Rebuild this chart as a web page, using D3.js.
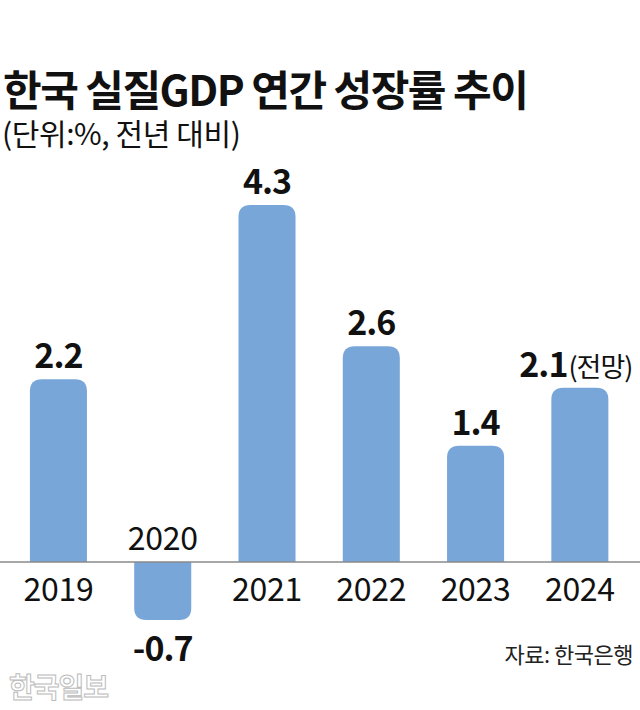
<!DOCTYPE html>
<html><head><meta charset="utf-8">
<script src="https://cdn.jsdelivr.net/npm/d3@7"></script>
<style>
html,body{margin:0;padding:0;background:#fff;}
svg{display:block;}
text{font-family:"Noto Sans CJK KR","Noto Sans",sans-serif;}
</style></head>
<body>
<svg id="chart" width="640" height="710"></svg>
<script>
const years = ["2019","2020","2021","2022","2023","2024"];
const growth = [2.2, -0.7, 4.3, 2.6, 1.4, 2.1];
const valueLabels = ["2.2","-0.7","4.3","2.6","1.4","2.1"];
const noteLabel = "(전망)";
const titleText = "한국 실질GDP 연간 성장률 추이";
const subtitleText = "(단위:%, 전년 대비)";
const sourceText = "자료: 한국은행";
const logoText = "한국일보";

const svg = d3.select("#chart");
const W = 640, H = 710;
svg.append("rect").attr("width",W).attr("height",H).attr("fill","#fff");

const x = d3.scaleBand().domain(years).range([6.3, 632]).paddingInner(0.453).paddingOuter(0.2265);
const y = d3.scaleLinear().domain([0, 4.3]).range([562, 205]);
const barColor = "#79a6d9";
const r = 12;

function barPath(d, i) {
  const x0 = x(years[i]), w = x.bandwidth();
  const y0 = y(0), y1 = y(d);
  const rr = Math.min(r, Math.abs(y1 - y0));
  if (d >= 0) {
    return `M${x0},${y0} L${x0},${y1+rr} Q${x0},${y1} ${x0+rr},${y1} L${x0+w-rr},${y1} Q${x0+w},${y1} ${x0+w},${y1+rr} L${x0+w},${y0} Z`;
  } else {
    return `M${x0},${y0} L${x0},${y1-rr} Q${x0},${y1} ${x0+rr},${y1} L${x0+w-rr},${y1} Q${x0+w},${y1} ${x0+w},${y1-rr} L${x0+w},${y0} Z`;
  }
}

svg.append("g").selectAll("path").data(growth).join("path")
  .attr("d", barPath).attr("fill", barColor);

// baseline
svg.append("line").attr("x1",0).attr("x2",W).attr("y1",y(0)).attr("y2",y(0))
  .attr("stroke","#8a8a8a").attr("stroke-width",1.5);

// year labels
svg.append("g").selectAll("text").data(years).join("text")
  .attr("x", d => x(d) + x.bandwidth()/2)
  .attr("y", (d,i) => growth[i] >= 0 ? y(0) + 39 : y(0) - 12)
  .attr("text-anchor","middle")
  .attr("font-size", 32).attr("fill","#111")
  .attr("letter-spacing", -0.3)
  .text(d => d);

// value labels
const vl = svg.append("g").selectAll("text").data(growth).join("text")
  .attr("x", (d,i) => x(years[i]) + x.bandwidth()/2 + (i === 5 ? -4 : 0))
  .attr("y", (d,i) => d >= 0 ? y(d) - 11 : y(d) + 41)
  .attr("text-anchor","middle")
  .attr("fill","#111");
vl.append("tspan").attr("font-size",34).attr("font-weight",700).attr("letter-spacing",-1)
  .text((d,i) => valueLabels[i]);
vl.filter((d,i) => i === 5).append("tspan").attr("font-size",27).attr("font-weight",400)
  .attr("dx", 1).attr("letter-spacing",-1).text(noteLabel);

// title
svg.append("text").attr("x",3).attr("y",106).attr("font-size",42).attr("font-weight",700)
  .attr("letter-spacing",-1.5).attr("fill","#111").text(titleText);
svg.append("text").attr("x",2).attr("y",145).attr("font-size",30).attr("font-weight",400)
  .attr("letter-spacing",-0.4).attr("fill","#111").text(subtitleText);

// source
svg.append("text").attr("x",633).attr("y",663).attr("text-anchor","end")
  .attr("font-size",22).attr("fill","#222").attr("letter-spacing",-0.5).text(sourceText);

// watermark
svg.append("text").attr("x",9).attr("y",698).attr("font-size",28).attr("font-weight",700)
  .attr("fill","#fff").attr("stroke","#bbb").attr("stroke-width",1)
  .attr("letter-spacing",-1).text(logoText);
</script>
</body></html>
